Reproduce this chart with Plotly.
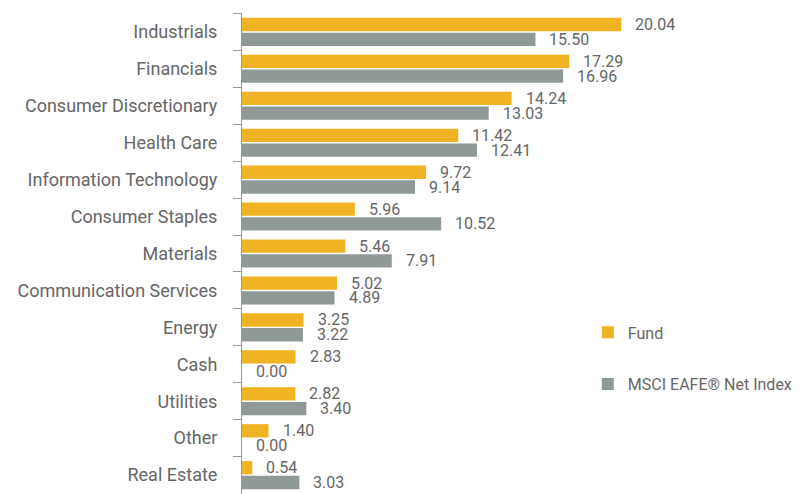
import plotly.graph_objects as go

categories = ["Industrials", "Financials", "Consumer Discretionary", "Health Care",
              "Information Technology", "Consumer Staples", "Materials",
              "Communication Services", "Energy", "Cash", "Utilities", "Other", "Real Estate"]
fund = [20.04, 17.29, 14.24, 11.42, 9.72, 5.96, 5.46, 5.02, 3.25, 2.83, 2.82, 1.40, 0.54]
index_vals = [15.50, 16.96, 13.03, 12.41, 9.14, 10.52, 7.91, 4.89, 3.22, 0.00, 3.40, 0.00, 3.03]
series_names = ["Fund", "MSCI EAFE® Net Index"]

FUND_C = "#F0B323"
IDX_C = "#8F9A98"
TXT_C = "#666666"
FONT = "Roboto"

fig = go.Figure()
fig.add_trace(go.Bar(y=categories, x=fund, orientation="h", name=series_names[0],
                     marker=dict(color=FUND_C, line=dict(width=0)), legendgroup="a"))
fig.add_trace(go.Bar(y=categories, x=index_vals, orientation="h", name=series_names[1],
                     marker=dict(color=IDX_C, line=dict(width=0)), legendgroup="b"))

annotations = []
for i in range(len(categories)):
    for v, off in ((fund[i], -0.2), (index_vals[i], 0.2)):
        annotations.append(dict(x=v, y=i + off, xref="x", yref="y", text=f"{v:.2f}",
                                showarrow=False, xanchor="left", yanchor="middle",
                                xshift=12, font=dict(family=FONT, size=16, color=TXT_C)))

fig.update_layout(
    width=802, height=486,
    margin=dict(l=234, r=0, t=5, b=0, autoexpand=False),
    paper_bgcolor="white", plot_bgcolor="white",
    barmode="group", bargap=0.2, bargroupgap=0.1,
    font=dict(family=FONT, size=18, color=TXT_C),
    xaxis=dict(range=[0, 30], visible=False),
    yaxis=dict(autorange="reversed", type="category", showline=True, linecolor="#999999",
               linewidth=1, ticks="outside", tickson="boundaries", ticklen=8,
               tickcolor="#999999", ticklabelstandoff=20, showgrid=False, automargin=False,
               tickfont=dict(family=FONT, size=18, color=TXT_C)),
    legend=dict(x=0.723, y=0.279, xref="container", yref="container",
                xanchor="left", yanchor="middle",
                font=dict(family=FONT, size=16, color=TXT_C),
                tracegroupgap=28, traceorder="grouped"),
    annotations=annotations,
    showlegend=True,
)

fig.write_html("out.html")
